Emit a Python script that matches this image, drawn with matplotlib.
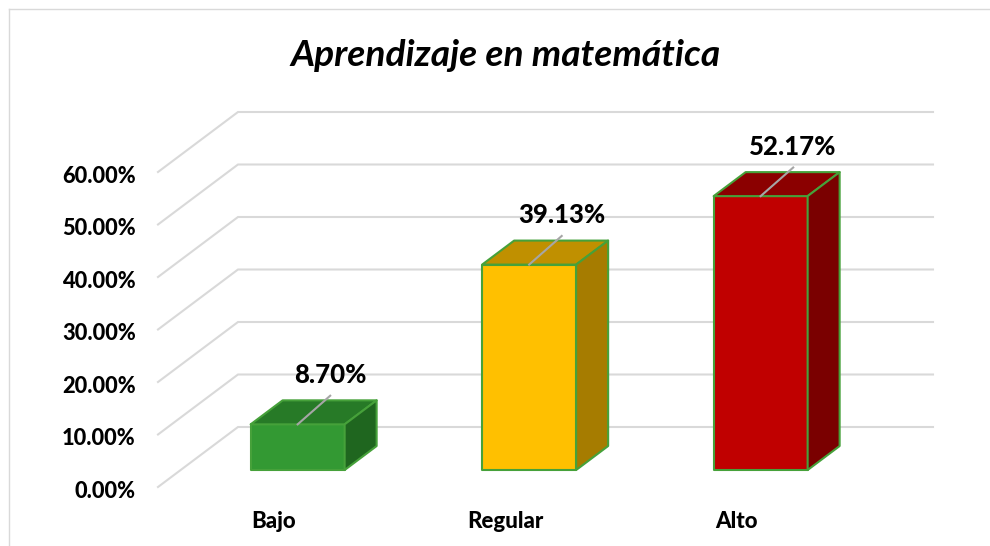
import matplotlib
matplotlib.use("Agg")
import matplotlib.pyplot as plt
from matplotlib.patches import Polygon

plt.rcParams['font.family'] = ['Lato', 'DejaVu Sans']

categories = ['Bajo', 'Regular', 'Alto']
values = [8.70, 39.13, 52.17]
labels = ['8.70%', '39.13%', '52.17%']
yticks = [0, 10, 20, 30, 40, 50, 60]
front_colors = ['#339933', '#FFC000', '#C00000']
top_colors = ['#277A27', '#C09000', '#8B0000']
side_colors = ['#1F661F', '#A67C00', '#7A0000']

W, H = 990, 546
fig = plt.figure(figsize=(W / 100, H / 100), dpi=100)
# back wall of the 3d box, in pixels: x 238-933, y 112-427
ax = fig.add_axes([238 / W, 1 - 427 / H, 695 / W, 315 / H])
step = 231.5
ax.set_xlim((238 - 355) / step, (933 - 355) / step)
ax.set_ylim(0, 60)
ax.axis('off')

# depth of the box: f=0 back wall, f=1 front edge
dx = -80 / step
dy = -60 / 5.25
bar_w = 94 / step
f_front, f_back, f_lead = 0.717, 0.317, 0.31
lead_up = 0.8


def proj(x, v, f):
    return (x + f * dx, v + f * dy)


grid = '#D9D9D9'
x0, x1 = ax.get_xlim()
for t in yticks:
    ax.plot(*zip(proj(x1, t, 0), proj(x0, t, 0), proj(x0, t, 1)),
            color=grid, lw=1.5, clip_on=False, zorder=1, solid_joinstyle='miter')
    ax.annotate(f'{t:.2f}%', proj(x0, t, 1), xytext=(-16, -3), textcoords='offset points',
                ha='right', va='center', fontsize=15.7, fontweight='black', annotation_clip=False)

for i, v in enumerate(values):
    l, r = i - bar_w / 2, i + bar_w / 2
    edge = dict(edgecolor='#46A13A', lw=1.5, clip_on=False, zorder=3, joinstyle='round')
    ax.add_patch(Polygon([proj(l, 0, f_front), proj(r, 0, f_front), proj(r, v, f_front), proj(l, v, f_front)],
                         facecolor=front_colors[i], **edge))
    ax.add_patch(Polygon([proj(l, v, f_front), proj(r, v, f_front), proj(r, v, f_back), proj(l, v, f_back)],
                         facecolor=top_colors[i], **edge))
    ax.add_patch(Polygon([proj(r, 0, f_front), proj(r, 0, f_back), proj(r, v, f_back), proj(r, v, f_front)],
                         facecolor=side_colors[i], **edge))
    # leader line and data label
    ax.plot(*zip(proj(i, v, f_front), proj(i, v + lead_up, f_lead)), color='#A6A6A6', lw=1.5, clip_on=False, zorder=4)
    ax.annotate(labels[i], proj(i, v + lead_up, f_lead), xytext=(0, 15), textcoords='offset points',
                ha='center', va='center', fontsize=18.5, fontweight='black', annotation_clip=False, zorder=5)
    ax.annotate(categories[i], proj(i, 0, 1), xytext=(-1, -25), textcoords='offset points',
                ha='center', va='center', fontsize=16, fontweight='black', annotation_clip=False)

fig.text(506 / W, 1 - 56 / H, 'Aprendizaje en matemática', ha='center', va='center',
         fontsize=26.7, fontstyle='italic', fontweight='bold')

# chart frame, only left and top are inside the crop
fig.add_artist(plt.Line2D([8.5 / W, 8.5 / W], [0, 1 - 8.5 / H], color=grid, lw=1))
fig.add_artist(plt.Line2D([8.5 / W, 1], [1 - 8.5 / H, 1 - 8.5 / H], color=grid, lw=1))

fig.savefig('out.png', dpi=100)
